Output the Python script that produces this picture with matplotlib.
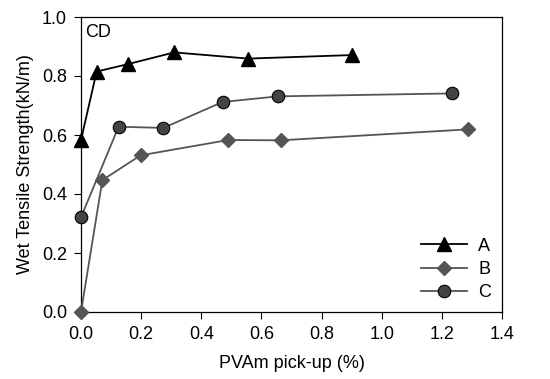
import matplotlib.pyplot as plt

plt.rcParams['font.family'] = ['Liberation Sans', 'DejaVu Sans']

# PVAm pick-up (%) and wet tensile strength (kN/m)
xa = [0.0, 0.052, 0.155, 0.31, 0.556, 0.902]
ya = [0.583, 0.815, 0.84, 0.88, 0.859, 0.871]

xb = [0.0, 0.071, 0.198, 0.49, 0.664, 1.286]
yb = [0.0, 0.447, 0.531, 0.583, 0.582, 0.619]

xc = [0.0, 0.125, 0.274, 0.471, 0.655, 1.235]
yc = [0.321, 0.628, 0.624, 0.712, 0.731, 0.741]

fig = plt.figure(figsize=(5.5, 3.79), dpi=100)
ax = fig.add_axes([81 / 550, 1 - 312 / 379, 421 / 550, 295 / 379])

ax.plot(xa, ya, color='black', lw=1.3, marker='^', ms=9.5,
        mfc='black', mec='black', label='A', clip_on=False, zorder=4)
ax.plot(xb, yb, color='#555555', lw=1.3, marker='D', ms=7.5,
        mfc='#555555', mec='#555555', label='B', clip_on=False, zorder=3)
ax.plot(xc, yc, color='#555555', lw=1.3, marker='o', ms=9,
        mfc='#444444', mec='black', mew=0.8, label='C', clip_on=False, zorder=3)

ax.set_xlim(0, 1.4)
ax.set_ylim(0, 1.0)
ax.set_xticks([0.0, 0.2, 0.4, 0.6, 0.8, 1.0, 1.2, 1.4])
ax.set_yticks([0.0, 0.2, 0.4, 0.6, 0.8, 1.0])
ax.xaxis.set_major_formatter(plt.FormatStrFormatter('%.1f'))
ax.yaxis.set_major_formatter(plt.FormatStrFormatter('%.1f'))
ax.tick_params(direction='out', length=5, width=0.8, labelsize=13, pad=5)

for s in ax.spines.values():
    s.set_linewidth(0.9)

ax.set_xlabel('PVAm pick-up (%)', fontsize=13, labelpad=9)
ax.set_ylabel('Wet Tensile Strength(kN/m)', fontsize=13, labelpad=6)

ax.text(0.01, 0.975, 'CD', transform=ax.transAxes, fontsize=13,
        va='top', ha='left')

ax.legend(loc='lower right', frameon=False, fontsize=13, handlelength=2.6,
          labelspacing=0.35, handletextpad=0.6, borderaxespad=0.2)

fig.savefig('out.png', dpi=100)
